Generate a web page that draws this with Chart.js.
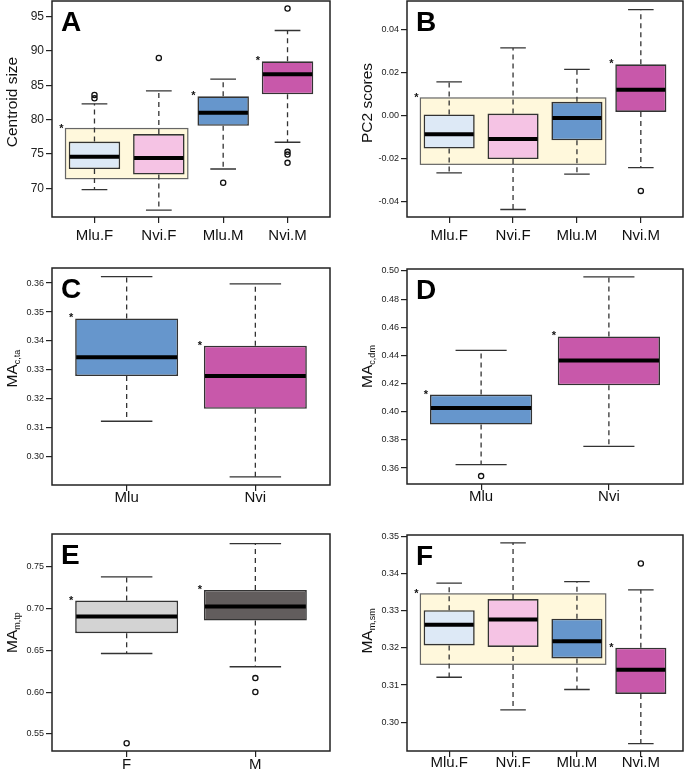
<!DOCTYPE html>
<html>
<head>
<meta charset="utf-8">
<script src="https://cdn.jsdelivr.net/npm/chart.js@4.4.0/dist/chart.umd.min.js"></script>
<style>
  html, body { margin: 0; padding: 0; background: #fff; }
  #fig { position: relative; width: 685px; height: 777px; overflow: hidden; }
  #fig canvas { position: absolute; }
</style>
</head>
<body>
<div id="fig"></div>
<script>
// group names
const groups4 = ["Mlu.F", "Nvi.F", "Mlu.M", "Nvi.M"];
const species = ["Mlu", "Nvi"];
const sexes = ["F", "M"];

const colors4 = ["#dde9f6", "#f5c3e4", "#6696cc", "#c858aa"];
const colorsSp = ["#6696cc", "#c858aa"];
const colorsSex = ["#d3d3d3", "#625d5d"];

// A - centroid size
const lowA = [69.8, 66.8, 72.8, 76.7];
const q1A = [72.8, 72.0, 79.1, 83.7];
const medA = [74.6, 74.4, 81.0, 86.6];
const q3A = [76.8, 77.9, 83.4, 88.5];
const highA = [82.3, 84.2, 85.9, 93.0];
const outA = [[0, 83.6], [0, 83.1], [1, 89.0], [2, 70.8], [3, 96.2], [3, 75.3], [3, 74.9], [3, 73.7]];
const ticksA = [70, 75, 80, 85, 90, 95];
const rangeA = [65.8, 97.3];
const shadeA = [0, 1, 71.4, 78.7]; // first group, last group, low, high
const starsA = [2, 3];

// B - PC2 scores
const lowB = [-0.0268, -0.0439, -0.0274, -0.0243];
const q1B = [-0.0154, -0.0203, -0.0116, 0.0017];
const medB = [-0.0088, -0.0110, -0.0011, 0.0121];
const q3B = [0.0005, 0.0009, 0.0064, 0.0239];
const highB = [0.0157, 0.0316, 0.0216, 0.0495];
const outB = [[3, -0.0352]];
const ticksB = [-0.04, -0.02, 0, 0.02, 0.04];
const rangeB = [-0.0474, 0.0535];
const shadeB = [0, 2, -0.0228, 0.0082];
const starsB = [3];

// C - MA c,ta
const lowC = [0.3123, 0.2931];
const q1C = [0.3279, 0.3166];
const medC = [0.3344, 0.3279];
const q3C = [0.3478, 0.3384];
const highC = [0.3622, 0.3597];
const outC = [];
const ticksC = [0.30, 0.31, 0.32, 0.33, 0.34, 0.35, 0.36];
const rangeC = [0.2903, 0.3652];
const starsC = [0, 1];

// D - MA c,dm
const lowD = [0.3624, 0.3754];
const q1D = [0.3909, 0.4188];
const medD = [0.4027, 0.4365];
const q3D = [0.4122, 0.4535];
const highD = [0.4436, 0.4958];
const outD = [[0, 0.3543]];
const ticksD = [0.36, 0.38, 0.40, 0.42, 0.44, 0.46, 0.48, 0.50];
const rangeD = [0.3487, 0.5014];
const starsD = [0, 1];

// E - MA m,tp
const lowE = [0.6464, 0.6305];
const q1E = [0.6707, 0.6859];
const medE = [0.6906, 0.7026];
const q3E = [0.7098, 0.7225];
const highE = [0.7381, 0.7779];
const outE = [[0, 0.5388], [1, 0.6169], [1, 0.6002]];
const ticksE = [0.55, 0.60, 0.65, 0.70, 0.75];
const rangeE = [0.5296, 0.7895];
const starsE = [0, 1];

// F - MA m,sm
const lowF = [0.3121, 0.3033, 0.3088, 0.2942];
const q1F = [0.3207, 0.3203, 0.3172, 0.3076];
const medF = [0.3263, 0.3277, 0.3218, 0.3141];
const q3F = [0.3302, 0.3332, 0.3279, 0.3201];
const highF = [0.3375, 0.3484, 0.3379, 0.3357];
const outF = [[3, 0.3428]];
const ticksF = [0.30, 0.31, 0.32, 0.33, 0.34, 0.35];
const rangeF = [0.2922, 0.3505];
const shadeF = [0, 2, 0.3156, 0.3346];
const starsF = [3];

const FONT = "'Liberation Sans', Arial, Helvetica, sans-serif";
Chart.defaults.font.family = FONT;

const panels = [
  { letter: "A", title: "Centroid size", cats: groups4, colors: colors4,
    low: lowA, q1: q1A, med: medA, q3: q3A, high: highA, out: outA,
    ticks: ticksA, range: rangeA, shade: shadeA, stars: starsA, digits: 0,
    pos: [0, 0, 340, 255], area: [52, 1, 330, 217], tickSize: 12, labelPad: 4, titleShift: -7 },
  { letter: "B", title: "PC2 scores", cats: groups4, colors: colors4,
    low: lowB, q1: q1B, med: medB, q3: q3B, high: highB, out: outB,
    ticks: ticksB, range: rangeB, shade: shadeB, stars: starsB, digits: 2,
    pos: [340, 0, 345, 255], area: [67, 1, 343, 217], tickSize: 9, labelPad: 4, titleShift: -6 },
  { letter: "C", title: "MA", sub: "c,ta", cats: species, colors: colorsSp,
    low: lowC, q1: q1C, med: medC, q3: q3C, high: highC, out: outC,
    ticks: ticksC, range: rangeC, shade: null, stars: starsC, digits: 2,
    pos: [0, 255, 340, 255], area: [52, 13, 330, 230], tickSize: 9, labelPad: -2, titleShift: -8 },
  { letter: "D", title: "MA", sub: "c,dm", cats: species, colors: colorsSp,
    low: lowD, q1: q1D, med: medD, q3: q3D, high: highD, out: outD,
    ticks: ticksD, range: rangeD, shade: null, stars: starsD, digits: 2,
    pos: [340, 255, 345, 255], area: [67, 14, 343, 229], tickSize: 9, labelPad: -2, titleShift: -10 },
  { letter: "E", title: "MA", sub: "m,tp", cats: sexes, colors: colorsSex,
    low: lowE, q1: q1E, med: medE, q3: q3E, high: highE, out: outE,
    ticks: ticksE, range: rangeE, shade: null, stars: starsE, digits: 2,
    pos: [0, 510, 340, 267], area: [52, 24, 330, 241], tickSize: 9, labelPad: -1, titleShift: -10 },
  { letter: "F", title: "MA", sub: "m,sm", cats: groups4, colors: colors4,
    low: lowF, q1: q1F, med: medF, q3: q3F, high: highF, out: outF,
    ticks: ticksF, range: rangeF, shade: shadeF, stars: starsF, digits: 2,
    pos: [340, 510, 345, 267], area: [67, 25, 343, 241], tickSize: 9, labelPad: -3, titleShift: -12 },
];

const HALF_BOX = 0.4;
const HALF_CAP = 0.2;
const HALF_SHADE = 0.45;

function boxPartsPlugin(p) {
  return {
    id: "boxParts" + p.letter,
    beforeDatasetsDraw(chart) {
      const { ctx } = chart;
      const xs = chart.scales.x;
      const ys = chart.scales.y;
      ctx.save();
      if (p.shade) {
        const x0 = xs.getPixelForValue(p.shade[0] + 1 - HALF_SHADE);
        const x1 = xs.getPixelForValue(p.shade[1] + 1 + HALF_SHADE);
        const y0 = ys.getPixelForValue(p.shade[3]);
        const y1 = ys.getPixelForValue(p.shade[2]);
        ctx.fillStyle = "#fff8dc";
        ctx.fillRect(x0, y0, x1 - x0, y1 - y0);
        ctx.strokeStyle = "#666";
        ctx.lineWidth = 1.2;
        ctx.strokeRect(x0, y0, x1 - x0, y1 - y0);
      }
      ctx.strokeStyle = "#333";
      ctx.lineWidth = 1.3;
      p.cats.forEach((c, i) => {
        const x = xs.getPixelForValue(i + 1);
        ctx.setLineDash([5, 4]);
        ctx.beginPath();
        ctx.moveTo(x, ys.getPixelForValue(p.q3[i]));
        ctx.lineTo(x, ys.getPixelForValue(p.high[i]));
        ctx.moveTo(x, ys.getPixelForValue(p.q1[i]));
        ctx.lineTo(x, ys.getPixelForValue(p.low[i]));
        ctx.stroke();
        ctx.setLineDash([]);
        const cx0 = xs.getPixelForValue(i + 1 - HALF_CAP);
        const cx1 = xs.getPixelForValue(i + 1 + HALF_CAP);
        ctx.beginPath();
        [p.high[i], p.low[i]].forEach((v) => {
          const y = ys.getPixelForValue(v);
          ctx.moveTo(cx0, y);
          ctx.lineTo(cx1, y);
        });
        ctx.stroke();
      });
      ctx.restore();
    },
    afterDatasetsDraw(chart) {
      const { ctx, chartArea: a } = chart;
      const xs = chart.scales.x;
      const ys = chart.scales.y;
      ctx.save();
      // medians
      ctx.strokeStyle = "#000";
      ctx.lineWidth = 4;
      p.cats.forEach((c, i) => {
        const y = ys.getPixelForValue(p.med[i]);
        ctx.beginPath();
        ctx.moveTo(xs.getPixelForValue(i + 1 - HALF_BOX) + 1, y);
        ctx.lineTo(xs.getPixelForValue(i + 1 + HALF_BOX) - 1, y);
        ctx.stroke();
      });
      // asterisks
      ctx.fillStyle = "#111";
      ctx.font = "bold 11px " + FONT;
      ctx.textAlign = "center";
      ctx.textBaseline = "alphabetic";
      const star = (x, y) => ctx.fillText("*", x - 4, y + 3);
      if (p.shade) {
        star(xs.getPixelForValue(p.shade[0] + 1 - HALF_SHADE), ys.getPixelForValue(p.shade[3]));
      }
      p.stars.forEach((i) => {
        star(xs.getPixelForValue(i + 1 - HALF_BOX), ys.getPixelForValue(p.q3[i]));
      });
      // frame
      ctx.strokeStyle = "#222";
      ctx.lineWidth = 1.5;
      ctx.strokeRect(a.left, a.top, a.right - a.left, a.bottom - a.top);
      // panel letter
      ctx.fillStyle = "#000";
      ctx.font = "bold 28px " + FONT;
      ctx.textAlign = "left";
      ctx.fillText(p.letter, a.left + 9, a.top + 30);
      // y title
      ctx.translate(a.left - 35, (a.top + a.bottom) / 2 + p.titleShift);
      ctx.rotate(-Math.PI / 2);
      ctx.font = "15.5px " + FONT;
      const mainW = ctx.measureText(p.title).width;
      let subW = 0;
      const subFont = "9px " + FONT;
      if (p.sub) {
        ctx.font = subFont;
        subW = ctx.measureText(p.sub).width;
      }
      const x0 = -(mainW + subW) / 2;
      ctx.fillStyle = "#111";
      ctx.font = "15.5px " + FONT;
      ctx.fillText(p.title, x0, 0);
      if (p.sub) {
        ctx.font = subFont;
        ctx.fillText(p.sub, x0 + mainW, 2.5);
      }
      ctx.restore();
    },
  };
}

function makePanel(p) {
  const [left, top, w, h] = p.pos;
  const [al, at, ar, ab] = p.area;
  const canvas = document.createElement("canvas");
  canvas.width = w;
  canvas.height = h;
  canvas.style.left = left + "px";
  canvas.style.top = top + "px";
  canvas.style.width = w + "px";
  canvas.style.height = h + "px";
  document.getElementById("fig").appendChild(canvas);
  const n = p.cats.length;
  const pad = 0.04 * n;
  const axisGrid = { drawOnChartArea: false, drawTicks: true, tickLength: 6, color: "#222", lineWidth: 1.2, offset: false };

  return new Chart(canvas, {
    type: "bar",
    data: {
      datasets: [
        {
          type: "bar",
          data: p.q1.map((q, i) => ({ x: i + 1, y: [q, p.q3[i]] })),
          backgroundColor: p.colors,
          borderColor: "#333",
          borderWidth: 1.6,
          borderSkipped: false,
          barPercentage: 2 * HALF_BOX,
          categoryPercentage: 1,
        },
        {
          type: "scatter",
          data: p.out.map((o) => ({ x: o[0] + 1, y: o[1] })),
          pointRadius: 2.6,
          pointBorderWidth: 1.3,
          pointBorderColor: "#111",
          pointBackgroundColor: "rgba(0,0,0,0)",
          clip: false,
        },
      ],
    },
    options: {
      responsive: false,
      animation: false,
      devicePixelRatio: 1,
      layout: { autoPadding: false, padding: { top: at, right: w - ar, left: 0, bottom: 0 } },
      plugins: { legend: { display: false }, tooltip: { enabled: false } },
      scales: {
        x: {
          type: "linear",
          offset: false,
          min: 0.5 - pad,
          max: n + 0.5 + pad,
          afterBuildTicks: (s) => { s.ticks = p.cats.map((c, i) => ({ value: i + 1 })); },
          afterFit: (s) => {
            s.height = h - ab;
            s.paddingLeft = 0;
            s.paddingRight = 0;
          },
          ticks: {
            autoSkip: false,
            maxRotation: 0,
            padding: p.labelPad,
            color: "#111",
            font: { size: 15 },
            callback: (v) => p.cats[Math.round(v) - 1],
          },
          grid: axisGrid,
          border: { display: false },
        },
        y: {
          min: p.range[0],
          max: p.range[1],
          afterBuildTicks: (s) => { s.ticks = p.ticks.map((v) => ({ value: v })); },
          afterFit: (s) => {
            s.width = al;
            s.paddingTop = 0;
            s.paddingBottom = 0;
          },
          ticks: {
            padding: 2,
            color: "#222",
            font: { size: p.tickSize },
            callback: (v) => v.toFixed(p.digits),
          },
          grid: axisGrid,
          border: { display: false },
        },
      },
    },
    plugins: [boxPartsPlugin(p)],
  });
}

panels.forEach(makePanel);
</script>
</body>
</html>
